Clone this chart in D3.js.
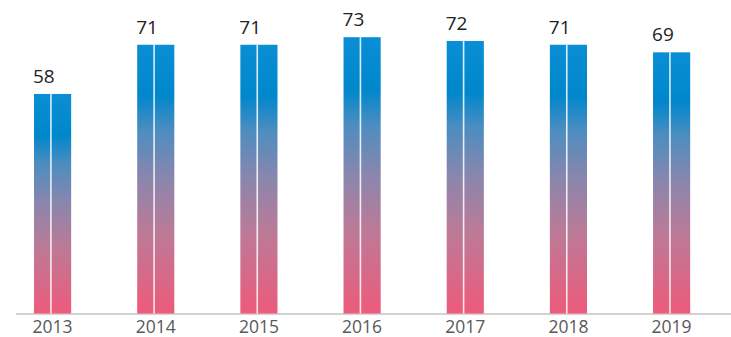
<!DOCTYPE html>
<html>
<head>
<meta charset="utf-8">
<script src="https://cdn.jsdelivr.net/npm/d3@7"></script>
<style>
  html, body { margin: 0; padding: 0; background: #fff; }
  svg { display: block; font-family: "Open Sans", "Segoe UI", sans-serif; }
</style>
</head>
<body>
<svg id="chart" width="731" height="337"></svg>
<script>
// Yearly values
const years = ["2013", "2014", "2015", "2016", "2017", "2018", "2019"];
const values = [58, 71, 71, 73, 72, 71, 69];

const width = 731, height = 337;
const baseY = 313.5;

const svg = d3.select("#chart");

const x = d3.scaleBand()
  .domain(years)
  .range([1, 723.2])
  .paddingInner(0.64)
  .paddingOuter(0.32);

const y = d3.scaleLinear()
  .domain([0, 80])
  .range([baseY, baseY - 302.8]);

// Per-bar vertical gradient: blue top fading through mauve to pink
const defs = svg.append("defs");
const grad = defs.append("linearGradient")
  .attr("id", "barGrad")
  .attr("x1", 0).attr("y1", 0).attr("x2", 0).attr("y2", 1);
[
  [0, "#0a8ed5"],
  [0.19, "#0087cb"],
  [0.32, "#4d8dc0"],
  [0.5, "#8b86ad"],
  [0.7, "#bc7a97"],
  [1, "#ee5a7b"]
].forEach(([o, c]) => grad.append("stop").attr("offset", o).attr("stop-color", c));

// Baseline axis
svg.append("line")
  .attr("x1", 16).attr("x2", width)
  .attr("y1", baseY + 0.5).attr("y2", baseY + 0.5)
  .attr("stroke", "#a6a6a6").attr("stroke-width", 1);

const bars = svg.append("g").selectAll("g")
  .data(years.map((yr, i) => ({ yr, v: values[i] })))
  .join("g");

bars.append("rect")
  .attr("x", d => x(d.yr))
  .attr("y", d => y(d.v))
  .attr("width", x.bandwidth())
  .attr("height", d => y(0) - y(d.v))
  .attr("fill", "url(#barGrad)");

// thin white divider inside each bar
bars.append("line")
  .attr("x1", d => x(d.yr) + x.bandwidth() * 0.455)
  .attr("x2", d => x(d.yr) + x.bandwidth() * 0.455)
  .attr("y1", d => y(d.v))
  .attr("y2", y(0))
  .attr("stroke", "#ffffff")
  .attr("stroke-opacity", 0.85)
  .attr("stroke-width", 1.6);

// value labels
bars.append("text")
  .attr("x", d => x(d.yr) - 1)
  .attr("y", d => y(d.v) - 11)
  .attr("font-size", 19)
  .attr("fill", "#222")
  .text(d => d.v);

// year labels
const axis = d3.axisBottom(x).tickSize(0).tickPadding(0);
const gx = svg.append("g")
  .attr("transform", `translate(0,${baseY})`)
  .call(axis);
gx.select(".domain").remove();
gx.selectAll("text")
  .attr("y", 0)
  .attr("dy", 19)
  .attr("font-size", 17.5)
  .attr("font-family", "\"Open Sans\", \"Segoe UI\", sans-serif")
  .attr("fill", "#595959");
</script>
</body>
</html>
